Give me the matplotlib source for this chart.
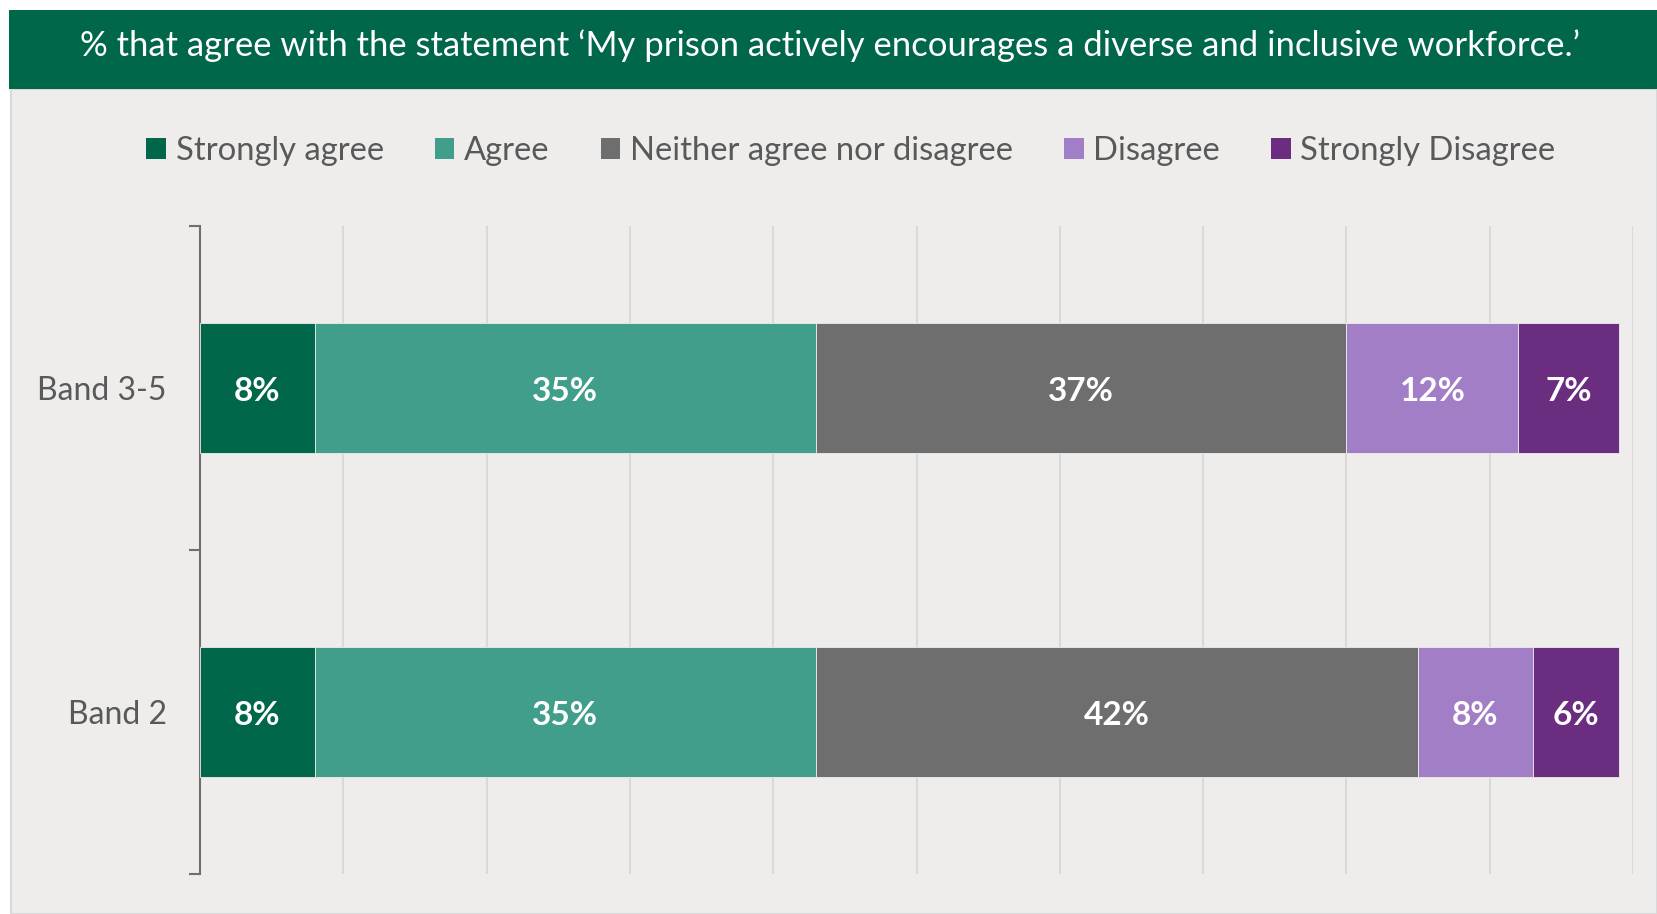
import matplotlib.pyplot as plt
from matplotlib.patches import Patch, Rectangle

plt.rcParams["font.family"] = ["Lato", "DejaVu Sans"]

categories = ["Band 3-5", "Band 2"]
responses = ["Strongly agree", "Agree", "Neither agree nor disagree",
             "Disagree", "Strongly Disagree"]
strongly_agree = [8, 8]
agree = [35, 35]
neither = [37, 42]
disagree = [12, 8]
strongly_disagree = [7, 6]

colors = ["#00674A", "#409E8A", "#6E6E6E", "#A17EC6", "#6A2D7F"]
title = ("% that agree with the statement \u2018My prison actively encourages "
         "a diverse and inclusive workforce.\u2019")

W, H = 1657, 914
fig = plt.figure(figsize=(W / 100, H / 100), dpi=100, facecolor="white")

# grey chart panel and green header band, kept behind the axes
fig.patches.append(Rectangle((11 / W, 0), 1 - 11 / W, 1 - 89 / H,
                             transform=fig.transFigure, facecolor="#EEEDEB",
                             edgecolor="#D9D9D9", linewidth=1.5, zorder=-2))
fig.patches.append(Rectangle((9 / W, 1 - 89 / H), 1 - 9 / W, 79 / H,
                             transform=fig.transFigure, facecolor="#00674A",
                             edgecolor="none", zorder=-1))
fig.text(0.501, 1 - 46 / H, title, color="white", fontsize=24.9,
         ha="center", va="center")

ax = fig.add_axes([200 / W, 1 - 874 / H, 1433 / W, 648 / H])
ax.set_facecolor("none")

series = [strongly_agree, agree, neither, disagree, strongly_disagree]
ypos = list(range(len(categories)))
left = [0] * len(categories)
for name, vals, col in zip(responses, series, colors):
    bars = ax.barh(ypos, vals, left=left, height=0.4, color=col,
                   edgecolor="#EEEDEB", linewidth=0.6, label=name, zorder=3)
    labels = ax.bar_label(bars, labels=[f"{v}%" for v in vals],
                          label_type="center", color="white",
                          fontsize=24, fontweight="bold")
    for t in labels:
        t.xyann = (0, -2.5)  # nudge down so digits sit optically centred
    left = [a + b for a, b in zip(left, vals)]

ax.set_xlim(0, 100)
ax.set_ylim(1.5, -0.5)
ax.set_xticks(range(0, 101, 10))
ax.tick_params(axis="x", length=0, labelbottom=False)
ax.grid(axis="x", color="#D9D9D9", linewidth=1.5, zorder=0)

ax.set_yticks(ypos)
ax.set_yticklabels(categories)
ax.set_yticks([-0.5, 0.5, 1.5], minor=True)
ax.tick_params(axis="y", which="major", length=0, pad=24,
               labelsize=23, labelcolor="#595959")
ax.tick_params(axis="y", which="minor", length=8, width=1.5,
               color="#6F6F6F", direction="out")

for side in ["top", "right", "bottom"]:
    ax.spines[side].set_visible(False)
ax.spines["left"].set_color("#6F6F6F")
ax.spines["left"].set_linewidth(1.5)

handles = [Patch(facecolor=c, edgecolor="none") for c in colors]
fig.legend(handles, responses, loc="center", ncol=5, frameon=False,
           bbox_to_anchor=(851 / W, 1 - 151 / H), fontsize=23.6,
           labelcolor="#595959", handlelength=0.6, handleheight=0.6,
           handletextpad=0.3, columnspacing=1.55)

fig.savefig("out.png", dpi=100, facecolor=fig.get_facecolor())
